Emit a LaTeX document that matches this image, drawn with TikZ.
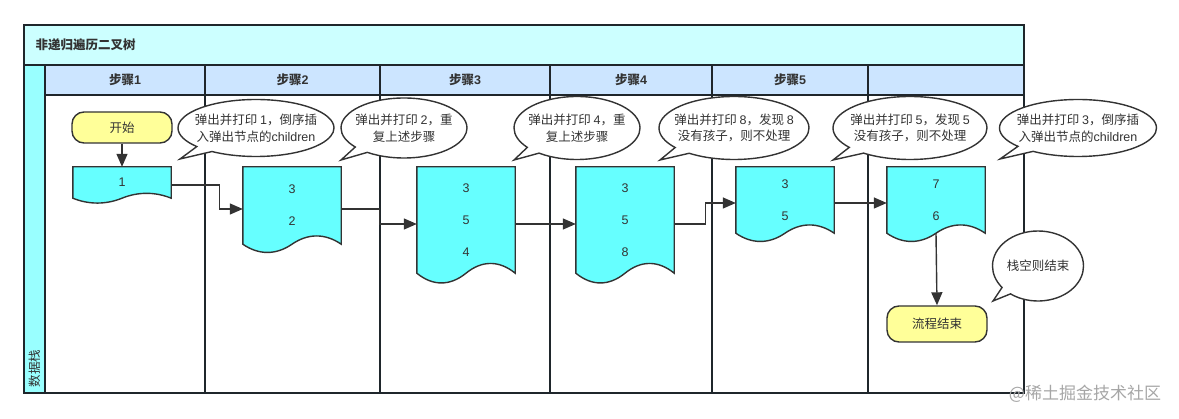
\documentclass[tikz,border=0pt]{standalone}
\usepackage{fontspec}
\usepackage{xcolor}
\usepackage{tikz}
\usetikzlibrary{shapes.geometric, shapes.callouts, arrows.meta, positioning, backgrounds}
\newfontfamily\cjk{Noto Sans CJK SC}
\newfontfamily\lat{Liberation Sans}
\definecolor{laneline}{HTML}{1F262B}
\definecolor{shapeline}{HTML}{333333}
\definecolor{titlebg}{HTML}{CCFFFF}
\definecolor{stripebg}{HTML}{99FFFF}
\definecolor{headbg}{HTML}{CCE5FF}
\definecolor{docbg}{HTML}{66FFFF}
\definecolor{termbg}{HTML}{FFFF99}
\definecolor{txt}{HTML}{333333}
\tikzset{
    lane/.style={draw=laneline, line width=1.7pt},
    lanehead/.style={text=txt, font=\cjk\bfseries\fontsize{12.5}{15}\selectfont},
    terminal/.style={rectangle, draw=shapeline, fill=termbg, line width=1.4pt, rounded corners=12pt, minimum width=100pt, text=txt, font=\cjk\fontsize{12.5}{15}\selectfont},
    docbox/.style={rectangle, minimum width=98pt, inner sep=0pt, align=center, text=txt, font=\lat\fontsize{12.5}{32}\selectfont},
    docline/.style={draw=shapeline, fill=docbg, line width=1.4pt},
    bubble/.style={ellipse callout, draw=shapeline, fill=white, line width=1.4pt, inner xsep=-20pt, inner ysep=0pt, callout pointer arc=15, align=center, text=txt, font=\cjk\fontsize{12.5}{16.5}\selectfont},
    arrow/.style={-{Triangle[length=13pt, width=11pt]}, line width=1.4pt, draw=shapeline}
}
% stack snapshot: name, centre, body height, wave depth, entries
\newcommand{\stackdoc}[5]{%
    \node[docbox, minimum height=#3] (#1) at (#2) {#5};
    \begin{scope}[on background layer]
        \path[docline] (#1.north west) -- (#1.north east) -- (#1.south east)
            .. controls +(-16,-#4) and +(16,-#4) .. (#1.south)
            .. controls +(-16,#4) and +(16,#4) .. (#1.south west) -- cycle;
    \end{scope}
}

\begin{document}
\begin{tikzpicture}[x=1pt, y=-1pt]
    \useasboundingbox (0,0) rectangle (1179,419);

    % swimlane frame
    \filldraw[lane, fill=titlebg] (24,25) rectangle (1024,65);
    \filldraw[lane, fill=headbg] (45,65) rectangle (1024,95);
    \filldraw[lane, fill=stripebg] (24,65) rectangle (45,393);
    \draw[lane] (24,25) rectangle (1024,393);
    \foreach \x in {205,380,550,712,868}
        \draw[lane] (\x,65) -- (\x,393);

    \node[lanehead, anchor=west] (title) at (32,45) {非递归遍历二叉树};
    \foreach \a/\b [count=\i] in {45/205, 205/380, 380/550, 550/712, 712/868}
        \node[lanehead] (head\i) at ({(\a+\b)/2},80) {步骤{\lat\bfseries\i}};
    \node[text=txt, font=\cjk\fontsize{12.5}{15}\selectfont, rotate=90, anchor=west] (stack) at (34.5,391) {数据栈};

    % flow
    \node[terminal, minimum height=31pt] (start) at (122,127.5) {开始};
    \stackdoc{d1}{122,182.5}{31}{6.5}{1}
    \stackdoc{d2}{292,205.5}{77}{11}{3\\2}
    \stackdoc{d3}{466,220}{106}{13}{3\\5\\4}
    \stackdoc{d4}{625,220}{106}{13}{3\\5\\8}
    \stackdoc{d5}{785,200}{66}{11}{3\\5}
    \stackdoc{d6}{936,200}{66}{11}{7\\6}
    \node[terminal, minimum height=36pt] (finish) at (937,324) {流程结束};

    \draw[arrow] (start) -- (d1);
    \draw[arrow] ([yshift=-2.5pt]d1.east) -- ++(48,0) |- ([yshift=-3.5pt]d2.west);
    \draw[arrow] ([yshift=-3.5pt]d2.east) -- ++(38,0) |- ([yshift=-4pt]d3.west);
    \draw[arrow] ([yshift=-4pt]d3.east) -- ([yshift=-4pt]d4.west);
    \draw[arrow] ([yshift=-4pt]d4.east) -- ++(31,0) |- ([yshift=-3pt]d5.west);
    \draw[arrow] ([yshift=-3pt]d5.east) -- ([yshift=-3pt]d6.west);
    \draw[arrow] (d6.south) -- (finish.north);

    % notes
    \node[bubble, minimum width=156pt, minimum height=57pt, callout absolute pointer={(180,159)}] (note1) at (256,128) {弹出并打印 {\lat 1}，倒序插\\入弹出节点的{\lat children}};
    \node[bubble, minimum width=126pt, minimum height=60pt, callout absolute pointer={(341,160)}] (note2) at (404,128) {弹出并打印 {\lat 2}，重\\复上述步骤};
    \node[bubble, minimum width=126pt, minimum height=63pt, callout absolute pointer={(514,160)}] (note3) at (577,128) {弹出并打印 {\lat 4}，重\\复上述步骤};
    \node[bubble, minimum width=150pt, minimum height=63pt, callout absolute pointer={(660,160)}] (note4) at (734,128) {弹出并打印 {\lat 8}，发现 {\lat 8}\\没有孩子，则不处理};
    \node[bubble, minimum width=154pt, minimum height=63pt, callout absolute pointer={(833,160)}] (note5) at (910,128) {弹出并打印 {\lat 5}，发现 {\lat 5}\\没有孩子，则不处理};
    \node[bubble, minimum width=157pt, minimum height=57pt, callout absolute pointer={(1000,159)}] (note6) at (1078,128) {弹出并打印 {\lat 3}，倒序插\\入弹出节点的{\lat children}};
    \node[bubble, minimum width=91pt, minimum height=70pt, callout absolute pointer={(993,301)}] (note7) at (1038,266) {栈空则结束};

    \node[text=black!35, font=\cjk\fontsize{17}{20}\selectfont] (mark) at (1085,394) {@稀土掘金技术社区};
\end{tikzpicture}
\end{document}
